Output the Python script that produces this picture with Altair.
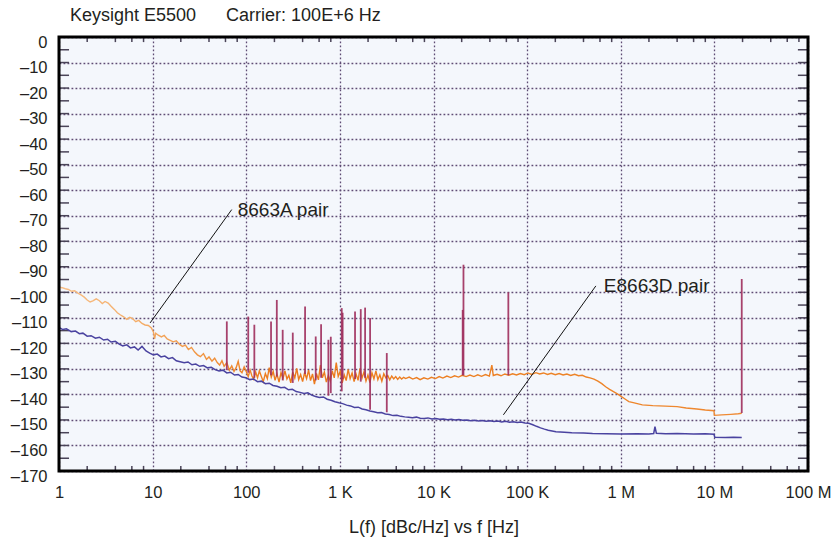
import altair as alt
import pandas as pd

# ---- phase-noise traces: (offset frequency in Hz, L(f) in dBc/Hz) ----
trace_8663a = [
    (1, -98), (1.08, -98.2), (1.17, -98.6), (1.26, -98.9), (1.36, -99.6), (1.47, -99.4),
    (1.59, -100.3), (1.72, -101), (1.86, -101.9), (2, -103), (2.15, -103.8), (2.3, -103.4),
    (2.5, -102.6), (2.7, -103.3), (2.9, -104.4), (3.1, -103.6), (3.35, -104.2), (3.6, -105.5),
    (3.9, -106.7), (4.2, -108), (4.5, -108.8), (4.9, -109.6), (5.3, -110.6), (5.7, -109.8),
    (6.1, -110.3), (6.6, -111.5), (7.1, -111), (7.7, -112.2), (8.3, -112.8), (9, -113),
    (9.7, -114), (10.2, -115.5), (10.5, -118.2), (10.8, -116), (11.5, -116.8), (12.4, -117.5),
    (13.3, -116.9), (14.3, -118.3), (15.4, -118.8), (16.6, -119.4), (17.9, -119), (19.3, -120.3),
    (20.8, -121.2), (22.4, -120.7), (24.1, -122.4), (26, -121.6), (28, -123.3), (30.1, -124.5),
    (32.4, -125.2), (34.9, -124), (37.6, -126.3), (40, -125.3), (43, -127), (46, -125.8),
    (49, -127.5), (52, -128.5), (55, -126.8), (58, -129), (62, -127.5), (66, -130.5),
    (70, -128.8), (74, -131), (78, -129.5), (82, -127), (86, -130.8), (90, -131.5), (95, -129.2),
    (100, -131), (105, -133), (110, -130.5), (115, -132.8), (120, -134), (126, -131.2),
    (132, -133.5), (138, -130.8), (145, -133), (152, -135), (160, -131.8), (168, -133.8),
    (176, -129.5), (185, -133.2), (194, -131), (203, -134.5), (213, -132), (224, -135.2),
    (235, -131.5), (247, -133.8), (259, -130.8), (272, -134), (285, -132.5), (299, -135.5),
    (314, -131.2), (330, -133.6), (346, -129.8), (363, -134.2), (381, -132.2), (400, -135),
    (420, -131.5), (441, -133.8), (463, -130.5), (486, -134.6), (510, -132), (535, -136),
    (562, -131.8), (590, -134.3), (620, -128.5), (650, -133.5), (683, -131.3), (717, -135.2),
    (753, -132.5), (790, -134.8), (830, -130.8), (871, -133.5), (915, -127.5), (960, -133),
    (1008, -131), (1060, -135.5), (1113, -132.3), (1168, -134.6), (1226, -130.2),
    (1287, -133.8), (1351, -131.6), (1419, -135), (1490, -132), (1564, -134.5), (1642, -129.8),
    (1724, -133.6), (1810, -131.2), (1900, -134.8), (1995, -132.4), (2095, -135.4),
    (2200, -131.5), (2310, -133.9), (2425, -130.8), (2546, -134.2), (2673, -132.3),
    (2806, -134.8), (2946, -131.9), (3093, -133.5), (3248, -132.6), (3410, -134.3),
    (3580, -132.8), (3760, -133.9), (3948, -133), (4145, -134.1), (4352, -133.2), (4570, -134),
    (4800, -133.3), (5040, -133.8), (5500, -133.2), (6000, -134), (6600, -133.4),
    (7200, -134.2), (7900, -133.5), (8700, -134), (9500, -133.3), (10500, -133.8),
    (11500, -133), (12600, -133.6), (13900, -132.8), (15300, -133.4), (16800, -132.7),
    (18500, -133.2), (20300, -132.5), (22300, -133), (24500, -132.4), (27000, -133),
    (29700, -132.3), (32600, -132.9), (35900, -132.2), (39500, -132.8), (42000, -128.5),
    (43500, -132.6), (47800, -132.1), (52600, -132.7), (57800, -132), (63600, -132.5),
    (70000, -131.9), (77000, -132.4), (84700, -131.8), (93200, -132.3), (102000, -131.6),
    (112000, -132.2), (124000, -131.5), (136000, -132), (150000, -131.6), (165000, -132.2),
    (181000, -131.7), (200000, -132.3), (220000, -131.8), (242000, -132.4), (266000, -132),
    (292000, -132.6), (322000, -132.1), (354000, -132.7), (389000, -132.5), (428000, -133.2),
    (470000, -133.5), (517000, -134), (570000, -134.8), (627000, -135.8), (690000, -137),
    (760000, -138), (836000, -138.9), (920000, -139.8), (1.01e6, -140.8), (1.11e6, -141.8),
    (1.22e6, -142.8), (1.36e6, -143.2), (1.5e6, -143.6), (1.7e6, -144.1), (2.2e6, -144.4),
    (3e6, -144.6), (4e6, -144.8), (5e6, -145.3), (6.5e6, -145.7), (8e6, -146.1),
    (9.9e6, -146.4), (1.0e7, -148.2), (1.2e7, -148), (1.5e7, -147.8), (1.8e7, -147.6),
    (1.96e7, -147.4),
]

trace_e8663d = [
    (1, -113.8), (1.1, -114.6), (1.2, -114.3), (1.35, -115.4), (1.5, -115.2), (1.65, -116.2),
    (1.8, -116), (2, -117.2), (2.2, -117), (2.45, -118), (2.7, -117.6), (3, -118.7),
    (3.3, -118.4), (3.6, -119.5), (4, -119.2), (4.4, -120.3), (4.8, -121), (5.3, -120.6),
    (5.8, -121.8), (6.4, -121.4), (7, -122.6), (7.7, -121.2), (8.5, -123), (9.3, -123.8),
    (10.2, -124.5), (11.2, -124.2), (12.3, -125.3), (13.5, -125), (14.8, -126), (16.3, -125.6),
    (17.9, -126.8), (19.7, -127.2), (21.7, -127.6), (23.9, -127.3), (26.3, -128.4),
    (28.9, -128.1), (31.8, -129), (35, -128.7), (38.5, -129.6), (42.3, -129.4), (46.5, -130.3),
    (51.2, -130.8), (56.3, -130.5), (62, -131.6), (68, -131.3), (75, -132.4), (82, -132.2),
    (90, -133.2), (99, -133.5), (109, -134.2), (120, -134), (132, -135), (145, -134.8),
    (160, -135.8), (176, -135.6), (193, -136.5), (213, -136.8), (234, -137.4), (257, -137.2),
    (283, -138.2), (311, -138), (342, -138.9), (376, -139.2), (414, -139.6), (455, -139.4),
    (500, -140.3), (550, -140.8), (605, -141.2), (666, -141), (732, -141.9), (805, -142.3),
    (886, -142.9), (975, -143.3), (1070, -143.6), (1180, -144.2), (1300, -144.5),
    (1430, -145.1), (1570, -145), (1730, -145.7), (1900, -146), (2090, -146.5), (2300, -146.8),
    (2530, -147.2), (2780, -147.1), (3060, -147.7), (3370, -147.9), (3700, -148.3),
    (4070, -148.2), (4480, -148.6), (4930, -148.8), (5420, -148.9), (5960, -149.1),
    (6560, -148.9), (7220, -149.3), (7940, -149.4), (8730, -149.2), (9600, -149.6),
    (10600, -149.4), (11600, -149.7), (12800, -149.6), (14100, -149.9), (15500, -149.7),
    (17000, -150), (18700, -149.8), (20600, -150.1), (22700, -150), (24900, -150.3),
    (27400, -150.1), (30200, -150.4), (33200, -150.2), (36500, -150.5), (40200, -150.3),
    (44200, -150.6), (48600, -150.4), (53500, -150.8), (58800, -150.5), (64700, -150.9),
    (71200, -150.7), (78300, -151), (86100, -150.8), (94700, -151.2), (104000, -151.3),
    (115000, -151.9), (126000, -152.5), (139000, -153.1), (153000, -153.6), (168000, -154),
    (185000, -154.3), (203000, -154.6), (250000, -154.8), (300000, -155), (400000, -155.1),
    (500000, -155.3), (700000, -155.4), (1e6, -155.5), (1.5e6, -155.4), (2e6, -155.5),
    (2.25e6, -155.3), (2.32e6, -152.6), (2.4e6, -155.2), (3e6, -155.4), (4e6, -155.3),
    (6e6, -155.5), (8e6, -155.4), (9.9e6, -155.6), (1.01e7, -156.8), (1.3e7, -156.9),
    (1.6e7, -156.8), (1.96e7, -156.9),
]

# discrete spurs: frequency, peak level, foot level
spur_freq = [62, 105, 122, 184, 212, 245, 314, 425, 552, 630, 754, 800, 1047, 1070, 1452,
             1671, 1860, 2103, 3170, 20500, 20900, 63000, 19600000]
spur_top = [-111.4, -109.5, -112.7, -111.4, -103.0, -114.7, -115.8, -105.6, -117.3, -112.5,
            -118.6, -117.4, -106.2, -108.0, -107.5, -106.6, -106.0, -110.1, -123.8, -106.9,
            -89.2, -100.0, -94.8]
spur_base = [-130.5, -131.5, -133.5, -132.5, -133.0, -134.5, -135.5, -132.0, -134.5, -133.5,
             -140.5, -139.5, -138.8, -134.0, -134.0, -135.0, -133.5, -146.0, -147.0, -132.5,
             -132.5, -132.5, -147.3]

# axis ticks
x_ticks = [1, 10, 100, 1e3, 1e4, 1e5, 1e6, 1e7, 1e8]
y_ticks = list(range(-170, 1, 10))
minor_mult = [2, 4, 6, 8]
x_minor = [d * m for d in x_ticks[:-1] for m in minor_mult]
y_minor = list(range(-165, 0, 5))

# callouts: leader line end points and label anchor
callout_text = ["8663A pair", "E8663D pair"]
callout_f = [70, 542000]
callout_db = [-67.6, -97.5]
callout_f2 = [9.4, 55800]
callout_db2 = [-112.0, -148.0]
callout_text_f = [81, 660000]

FONT = "Liberation Sans"
INK = "#231f20"
GRID = "#5f4c74"

# 1, 10, 100, 1 K ... 100 M
x_label_expr = (
    "datum.value < 999 ? format(datum.value, '.0f') : "
    "datum.value < 999000 ? format(datum.value / 1000, '.0f') + ' K' : "
    "format(datum.value / 1000000, '.0f') + ' M'"
)

xs = alt.Scale(type="log", domain=[1, 1e8], nice=False)
ys = alt.Scale(domain=[-170, 0], nice=False, zero=False)

x_axis = alt.Axis(values=x_ticks, labelExpr=x_label_expr,
                  grid=True, domain=False, ticks=False, labelPadding=13,
                  labelFontSize=16.5, labelFont=FONT, labelColor=INK, labelFlush=False,
                  title="L(f) [dBc/Hz] vs f [Hz]", titleFont=FONT, titleFontSize=18,
                  titleFontWeight="normal", titleColor=INK, titlePadding=18,
                  gridColor=GRID, gridDash=[1.8, 2.2], gridWidth=1.3, labelOverlap=False)
y_axis = alt.Axis(values=y_ticks, labelExpr="datum.value < 0 ? '\u2013' + abs(datum.value) : '0'",
                  grid=True, domain=False, ticks=False, labelPadding=12, labelOffset=5,
                  labelFontSize=16.5, labelFont=FONT, labelColor=INK, title=None,
                  gridColor=GRID, gridDash=[1.8, 2.2], gridWidth=1.3, labelOverlap=False)

X = alt.X("f:Q", scale=xs, axis=x_axis)
Y = alt.Y("db:Q", scale=ys, axis=y_axis)

orange = pd.DataFrame(trace_8663a, columns=["f", "db"])
blue = pd.DataFrame(trace_e8663d, columns=["f", "db"])
spurs = pd.DataFrame({"f": spur_freq, "db": spur_top, "db2": spur_base})

ticks_top = pd.DataFrame({"f": x_minor, "db": [0] * len(x_minor), "db2": [-2] * len(x_minor)})
ticks_bot = pd.DataFrame({"f": x_minor, "db": [-170] * len(x_minor), "db2": [-168] * len(x_minor)})
ticks_left = pd.DataFrame({"f": [1] * len(y_minor), "f2": [1.28] * len(y_minor), "db": y_minor})
ticks_right = pd.DataFrame({"f": [7.8e7] * len(y_minor), "f2": [1e8] * len(y_minor), "db": y_minor})
frame = pd.DataFrame({"f": [1], "f2": [1e8], "db": [0], "db2": [-170]})

callouts = pd.DataFrame({"label": callout_text, "f": callout_f, "db": callout_db,
                         "f2": callout_f2, "db2": callout_db2, "ft": callout_text_f})

orange_grad = alt.Gradient(
    gradient="linear", x1=0, x2=1, y1=0, y2=0,
    stops=[alt.GradientStop(offset=0, color="#f7bd84"),
           alt.GradientStop(offset=0.12, color="#f4ad68"),
           alt.GradientStop(offset=0.24, color="#ef8c34"),
           alt.GradientStop(offset=0.32, color="#ec7a1c"),
           alt.GradientStop(offset=0.78, color="#ed8428"),
           alt.GradientStop(offset=1, color="#ef8a34")])

noise_a = alt.Chart(orange).mark_line(stroke=orange_grad, strokeWidth=1.4).encode(x=X, y=Y)
noise_d = alt.Chart(blue).mark_line(color="#4a43a0", strokeWidth=1.5).encode(x=X, y=Y)
spur_lines = alt.Chart(spurs).mark_rule(color="#9e2d5c", strokeWidth=1.8, opacity=0.9).encode(
    x=X, y=Y, y2="db2:Q")

tick_style = dict(color="#4a4458", strokeWidth=1.5)
t_top = alt.Chart(ticks_top).mark_rule(**tick_style).encode(x=X, y=Y, y2="db2:Q")
t_bot = alt.Chart(ticks_bot).mark_rule(**tick_style).encode(x=X, y=Y, y2="db2:Q")
t_left = alt.Chart(ticks_left).mark_rule(**tick_style).encode(x=X, x2="f2:Q", y=Y)
t_right = alt.Chart(ticks_right).mark_rule(**tick_style).encode(x=X, x2="f2:Q", y=Y)

border = alt.Chart(frame).mark_rect(fill=None, stroke="black", strokeWidth=3).encode(
    x=X, x2="f2:Q", y=Y, y2="db2:Q")

leaders = alt.Chart(callouts).mark_rule(color="#111111", strokeWidth=1).encode(
    x=X, y=Y, x2="f2:Q", y2="db2:Q")
labels = alt.Chart(callouts).mark_text(
    align="left", baseline="middle", font=FONT, fontSize=19, color=INK).encode(
    x=alt.X("ft:Q", scale=xs, axis=x_axis), y=Y, text="label:N")

chart = alt.layer(
    t_top, t_bot, t_left, t_right, noise_a, noise_d, spur_lines, leaders, labels, border
).properties(
    width=749, height=434,
    title=alt.TitleParams(
        text="Keysight E5500\u00a0\u00a0\u00a0\u00a0\u00a0\u00a0Carrier: 100E+6 Hz",
        anchor="start", frame="group", dx=11, offset=9, font=FONT, fontSize=18,
        fontWeight="normal", color=INK),
    padding={"left": 59, "top": 37, "right": 26, "bottom": 71},
    autosize=alt.AutoSizeParams(type="none"),
).configure(background="white").configure_view(
    stroke=None, fill="#f4f7fc")

chart.save("out.html", embed_options={"renderer": "svg", "actions": False})
